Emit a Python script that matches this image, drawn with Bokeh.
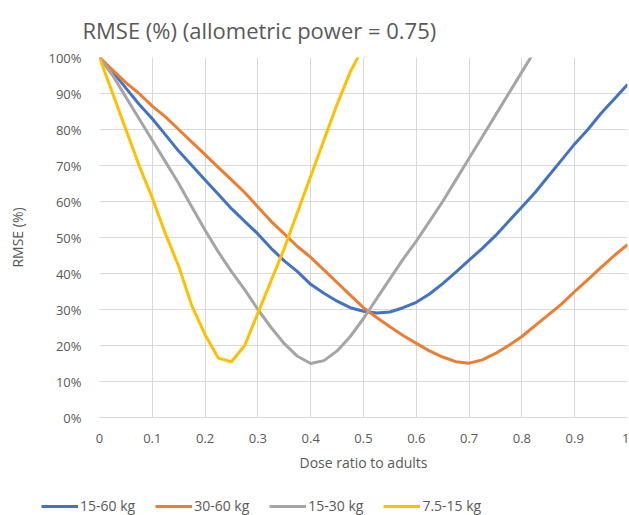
from bokeh.plotting import figure
from bokeh.layouts import column
from bokeh.models import FixedTicker, NumeralTickFormatter, Legend, LegendItem
from bokeh.embed import file_html
from bokeh.resources import INLINE

# Dose ratio to adults (sampled every 0.025)
dose = [round(i * 0.025, 3) for i in range(41)]

rmse_15_60 = [100, 96, 91.5, 87, 83, 78.5, 74, 70, 66, 62, 58, 54.5, 51, 47, 43.5, 40.5,
              37, 34.5, 32.3, 30.5, 29.5, 29, 29.3, 30.5, 32, 34.3, 37.2, 40.4, 43.7, 47,
              50.5, 54.5, 58.5, 62.5, 67, 71.5, 76, 80, 84.5, 88.5, 92.5]
rmse_30_60 = [100, 96.5, 93, 90, 86.5, 83.5, 80, 76.5, 73, 69.5, 66, 62.5, 58.5, 54.5, 51,
              47.5, 44.5, 41, 37.5, 34, 30.5, 27.8, 25.2, 22.8, 20.6, 18.5, 16.8, 15.5, 15.1,
              16, 17.8, 20, 22.5, 25.5, 28.5, 31.5, 35, 38.3, 41.7, 45, 48]
rmse_15_30 = [100, 95, 89, 83, 77, 71, 65, 58.5, 52, 46, 40.5, 35.5, 30, 25, 20.5, 17, 15,
              15.8, 18.5, 22.5, 27.5, 33, 38.5, 44, 49, 54.5, 60, 66, 72, 78, 84, 90, 96, 102]
rmse_7_15 = [100, 90, 80, 70, 61, 51, 42, 31, 23, 16.5, 15.5, 20, 29, 38, 47, 57, 67,
             77, 87, 96, 103]

series_names = ["15-60 kg", "30-60 kg", "15-30 kg", "7.5-15 kg"]
series_values = [rmse_15_60, rmse_30_60, rmse_15_30, rmse_7_15]
colors = ["#4472C4", "#ED7D31", "#A5A5A5", "#FFC000"]

x_ticks = [0, 0.1, 0.2, 0.3, 0.4, 0.5, 0.6, 0.7, 0.8, 0.9, 1.0]
x_tick_labels = ["0", "0.1", "0.2", "0.3", "0.4", "0.5", "0.6", "0.7", "0.8", "0.9", "1"]
y_ticks = [i / 10 for i in range(11)]

FONT = "Open Sans"
TXT = "#595959"
GRID = "#D9D9D9"

p = figure(width=629, height=480, x_range=(0, 1), y_range=(0, 1),
           output_backend="svg", toolbar_location=None,
           min_border_left=99, min_border_right=2, min_border_top=10, min_border_bottom=63)

p.title.text = "RMSE (%) (allometric power = 0.75)"
p.title.text_font = FONT
p.title.text_font_size = "22px"
p.title.text_font_style = "normal"
p.title.text_color = TXT
p.title.align = "left"
p.title.offset = -17
p.title.standoff = 25

for name, vals, c in zip(series_names, series_values, colors):
    xs = dose[:len(vals)]
    ys = [v / 100 for v in vals]
    p.line(xs, ys, line_color=c, line_width=3, line_join="round")

p.xaxis.ticker = FixedTicker(ticks=x_ticks)
p.xaxis.major_label_overrides = {t: l for t, l in zip(x_ticks, x_tick_labels)}
p.yaxis.ticker = FixedTicker(ticks=y_ticks)
p.yaxis.formatter = NumeralTickFormatter(format="0%")

for ax in (p.xaxis[0], p.yaxis[0]):
    ax.major_tick_line_color = None
    ax.minor_tick_line_color = None
    ax.major_label_text_font = FONT
    ax.major_label_text_font_size = "13px"
    ax.major_label_text_color = TXT
    ax.axis_label_text_font = FONT
    ax.axis_label_text_font_size = "14px"
    ax.axis_label_text_font_style = "normal"
    ax.axis_label_text_color = TXT

p.xaxis.axis_label = "Dose ratio to adults"
p.yaxis.axis_label = "RMSE (%)"
p.xaxis.axis_line_color = GRID
p.yaxis.axis_line_color = None
p.xaxis.major_label_standoff = 10
p.yaxis.major_label_standoff = 12
p.xaxis.axis_label_standoff = 7
p.yaxis.axis_label_standoff = 18

p.xgrid.grid_line_color = GRID
p.ygrid.grid_line_color = GRID
p.outline_line_color = None

# Legend strip below the chart
lg = figure(width=629, height=35, x_range=(0, 1), y_range=(0, 1),
            output_backend="svg", toolbar_location=None,
            min_border_left=0, min_border_right=0, min_border_top=0, min_border_bottom=0)
lg.axis.visible = False
lg.grid.visible = False
lg.outline_line_color = None
if "frame_align" in lg.properties():
    lg.frame_align = False
    p.frame_align = False
items = []
for name, c in zip(series_names, colors):
    r = lg.line(x=[5, 6], y=[5, 6], line_color=c, line_width=3)
    items.append(LegendItem(label=name, renderers=[r]))

legend = Legend(items=items, orientation="horizontal", location=(41, 0),
                glyph_width=37, glyph_height=14, label_standoff=2, spacing=20,
                label_text_font=FONT, label_text_font_size="14px", label_text_color=TXT,
                border_line_color=None, background_fill_alpha=0, padding=0, margin=0)
lg.add_layout(legend, "center")

layout = column(p, lg, spacing=0)
open("out.html", "w").write(file_html(layout, INLINE))
